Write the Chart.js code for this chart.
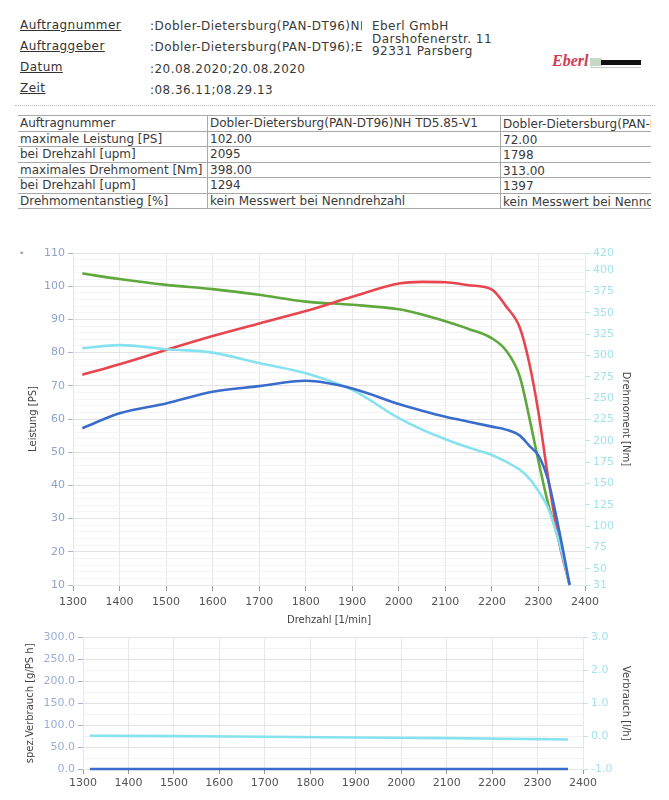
<!DOCTYPE html>
<html><head><meta charset="utf-8">
<script src="https://cdn.jsdelivr.net/npm/chart.js@4.4.1/dist/chart.umd.min.js"></script>
<style>
body{margin:0;width:669px;height:800px;background:#fff;position:relative;overflow:hidden;font-family:"DejaVu Sans",sans-serif;color:#3a3a3a}
.t{position:absolute;font-size:12px;line-height:14px;white-space:nowrap}
.h{letter-spacing:0.45px}
.u{text-decoration:underline;color:#333}
.clip{overflow:hidden}
.hl{position:absolute;height:0;border-top:1px solid #a8a8a8}
.vl{position:absolute;width:0;border-left:1px solid #a8a8a8}
canvas{position:absolute;left:0}
</style></head><body>
<!-- header -->
<div class="t h u" style="left:20px;top:18px">Auftragnummer</div>
<div class="t h u" style="left:20px;top:39px">Auftraggeber</div>
<div class="t h u" style="left:20px;top:60px">Datum</div>
<div class="t h u" style="left:20px;top:81px">Zeit</div>
<div class="t h clip" style="left:150px;top:19px;width:212px">:Dobler-Dietersburg(PAN-DT96)NH TD5.85-V1</div>
<div class="t h clip" style="left:150px;top:40px;width:212px">:Dobler-Dietersburg(PAN-DT96);Eberl</div>
<div class="t h" style="left:150px;top:62px">:20.08.2020;20.08.2020</div>
<div class="t h" style="left:150px;top:83px">:08.36.11;08.29.13</div>
<div class="t h" style="left:372px;top:19px">Eberl GmbH</div>
<div class="t h" style="left:372px;top:32px">Darshofenerstr. 11</div>
<div class="t h" style="left:372px;top:44px">92331 Parsberg</div>
<div class="t" style="left:552px;top:54px;font-family:'Liberation Serif',serif;font-style:italic;font-weight:bold;font-size:16px;color:#d23a55">Eberl</div>
<div style="position:absolute;left:590px;top:58px;width:12px;height:8px;background:#c8d8c8"></div>
<div style="position:absolute;left:601px;top:60px;width:40px;height:5px;background:#111"></div>
<div style="position:absolute;left:590px;top:67px;width:51px;height:1px;background:#bcd0bc"></div>
<div style="position:absolute;left:15px;top:105px;width:640px;border-top:1px dotted #b8b8b8"></div>
<div id="tbl"></div>
<div class="t" style="left:19px;top:246px;font-size:9px;color:#999">•</div>
<canvas id="c1" width="669" height="388" style="top:240px"></canvas>
<canvas id="c2" width="669" height="172" style="top:628px"></canvas>
<script>
// ---------- table data ----------
const tableLabels = ["Auftragnummer","maximale Leistung [PS]","bei Drehzahl [upm]","maximales Drehmoment [Nm]","bei Drehzahl [upm]","Drehmomentanstieg [%]"];
const tableCol1 = ["Dobler-Dietersburg(PAN-DT96)NH TD5.85-V1","102.00","2095","398.00","1294","kein Messwert bei Nenndrehzahl"];
const tableCol2 = ["Dobler-Dietersburg(PAN-DT96)","72.00","1798","313.00","1397","kein Messwert bei Nenndrehzahl"];

// ---------- chart data ----------
const rpm = [1320,1400,1500,1600,1700,1800,1900,2000,2050,2100,2150,2200,2230,2260,2280,2300,2320,2345,2367];
const leistung1 = [73.3,76.5,80.8,85.0,88.8,92.5,96.8,100.8,101.3,101.2,100.3,99.0,94.0,87.5,77.0,62.0,43.0,22.6,10.0];
const drehmoment1 = [396,389.5,382.7,377.7,371,363,359.3,354,348,340,331,320,306,275,228,176,128,80,31];
const leistung2 = [57.2,61.7,64.7,68.2,69.9,71.5,69.2,64.5,62.5,60.7,59.2,57.7,56.8,55.0,52.0,49.0,42.0,26.0,10.0];
const drehmoment2 = [308.5,312,307.3,303.3,291,279.2,259.6,226.4,213,201.8,192,183.4,175.5,166,156,141,122,80,31];
const rightTicksTop = [31,50,75,100,125,150,175,200,225,250,275,300,325,350,375,400,420];

const rpmVerbrauch = [1315,1500,1700,1900,2100,2300,2367];
const spezVerbrauch = [0,0,0,0,0,0,0];
const verbrauch = [0.01,0.0,-0.02,-0.04,-0.06,-0.09,-0.1];

// build table
(function(){
  const tbl = document.getElementById('tbl');
  const rowTop = 115, rowH = 15.5, x0 = 18, x1 = 207, x2 = 500, x3 = 651;
  let html = '';
  for (let i = 0; i <= tableLabels.length; i++) {
    html += `<div class="hl" style="left:${x0}px;top:${rowTop + i*rowH}px;width:${x3-x0}px"></div>`;
  }
  html += `<div class="vl" style="left:${x1}px;top:${rowTop}px;height:${rowH*tableLabels.length}px"></div>`;
  html += `<div class="vl" style="left:${x2}px;top:${rowTop}px;height:${rowH*tableLabels.length}px"></div>`;
  tableLabels.forEach((l,i) => {
    const y = rowTop + i*rowH + 1;
    html += `<div class="t clip" style="left:20px;top:${y}px;width:186px">${l}</div>`;
    html += `<div class="t clip" style="left:210px;top:${y}px;width:289px">${tableCol1[i]}</div>`;
    html += `<div class="t clip" style="left:503px;top:${y+1}px;width:148px">${tableCol2[i]}</div>`;
  });
  tbl.innerHTML = html;
})();

const pts = (xs, ys) => xs.map((x,i) => ({x, y: ys[i]}));
const tickFont = {family:'"DejaVu Sans", sans-serif', size:11};
const titleFont = {family:'"DejaVu Sans", sans-serif', size:10};
const plain = v => String(v);

const RED = '#e8464f', GREEN = '#5ea83c', CYAN = '#86e2ee', BLUE = '#3a6ccc';
const lineDs = (label, data, color, axis) => ({
  label, data, borderColor: color, backgroundColor: color, borderWidth: 2.6,
  pointRadius: 0, tension: 0.35, cubicInterpolationMode: 'monotone', yAxisID: axis, clip: false
});

new Chart(document.getElementById('c1'), {
  type: 'line',
  data: { datasets: [
    lineDs('Leistung 2', pts(rpm, leistung2), BLUE, 'yL'),
    lineDs('Drehmoment 2', pts(rpm, drehmoment2), CYAN, 'yR'),
    lineDs('Leistung 1', pts(rpm, leistung1), RED, 'yL'),
    lineDs('Drehmoment 1', pts(rpm, drehmoment1), GREEN, 'yR')
  ]},
  options: {
    responsive: false, animation: false, devicePixelRatio: 1,
    layout: { padding: { top: 13, left: 0, right: 0, bottom: 0 } },
    plugins: { legend: { display: false }, tooltip: { enabled: false } },
    scales: {
      x: {
        type: 'linear', min: 1300, max: 2400,
        afterFit: s => { s.height = 43; },
        ticks: { stepSize: 100, autoSkip: false, maxRotation: 0, color: '#555', font: tickFont, padding: 5, callback: plain },
        grid: { color: '#e8e8e8', tickColor: '#999', tickLength: 6 },
        border: { color: '#e8e8e8' },
        title: { display: true, text: 'Drehzahl [1/min]', color: '#444', font: titleFont, padding: { top: 0, bottom: 2 } }
      },
      yL: {
        position: 'left', min: 10, max: 110,
        afterFit: s => { s.width = 73; },
        ticks: { stepSize: 2, autoSkip: false, color: '#8ea2cc', font: tickFont, padding: 3,
                 callback: v => (v % 10 === 0 ? String(v) : '') },
        grid: { color: c => (c.tick && c.tick.value % 10 === 0 ? '#e2e2e2' : '#f4f4f4'),
                tickColor: c => (c.tick && c.tick.value % 10 === 0 ? '#aab5cc' : 'rgba(0,0,0,0)'), tickLength: 5 },
        border: { color: '#e8e8e8' },
        title: { display: true, text: 'Leistung [PS]', color: '#444', font: titleFont, padding: { top: 27, bottom: 0 } }
      },
      yR: {
        position: 'right', min: 31, max: 420,
        afterFit: s => { s.width = 84; },
        afterBuildTicks: s => { s.ticks = rightTicksTop.map(v => ({ value: v })); },
        ticks: { autoSkip: false, color: '#a2e2ec', font: tickFont, padding: 3, callback: plain },
        grid: { drawOnChartArea: false, tickColor: '#b8e8ef', tickLength: 5 },
        border: { display: false },
        title: { display: true, text: 'Drehmoment [Nm]', color: '#444', font: titleFont, padding: { top: 37, bottom: 0 } }
      }
    }
  }
});

new Chart(document.getElementById('c2'), {
  type: 'line',
  data: { datasets: [
    lineDs('spez. Verbrauch', pts(rpmVerbrauch, spezVerbrauch), BLUE, 'yL'),
    lineDs('Verbrauch', pts(rpmVerbrauch, verbrauch), CYAN, 'yR')
  ]},
  options: {
    responsive: false, animation: false, devicePixelRatio: 1,
    layout: { padding: { top: 9, left: 0, right: 0, bottom: 0 } },
    plugins: { legend: { display: false }, tooltip: { enabled: false } },
    scales: {
      x: {
        type: 'linear', min: 1300, max: 2400,
        afterFit: s => { s.height = 31; },
        ticks: { stepSize: 100, autoSkip: false, maxRotation: 0, color: '#555', font: tickFont, padding: 3, callback: plain },
        grid: { color: '#e8e8e8', tickColor: '#999', tickLength: 5 },
        border: { color: '#e8e8e8' }
      },
      yL: {
        position: 'left', min: 0, max: 300,
        afterFit: s => { s.width = 83; },
        ticks: { stepSize: 25, autoSkip: false, color: '#9aaed6', font: tickFont, padding: 3,
                 callback: v => (v % 50 === 0 ? v.toFixed(1) : '') },
        grid: { color: c => (c.tick && c.tick.value % 50 === 0 ? '#e2e2e2' : '#f2f2f2'),
                tickColor: c => (c.tick && c.tick.value % 50 === 0 ? '#aab5cc' : 'rgba(0,0,0,0)'), tickLength: 5 },
        border: { color: '#e8e8e8' },
        title: { display: true, text: 'spez.Verbrauch [g/PS h]', color: '#444', font: titleFont, padding: { top: 24, bottom: 0 } }
      },
      yR: {
        position: 'right', min: -1, max: 3,
        afterFit: s => { s.width = 86; },
        ticks: { stepSize: 1, autoSkip: false, color: '#a2e2ec', font: tickFont, padding: 3,
                 callback: v => Number(v).toFixed(1) },
        grid: { drawOnChartArea: false, tickColor: '#b8e8ef', tickLength: 5 },
        border: { display: false },
        title: { display: true, text: 'Verbrauch [l/h]', color: '#444', font: titleFont, padding: { top: 37, bottom: 0 } }
      }
    }
  }
});
</script>
</body></html>
